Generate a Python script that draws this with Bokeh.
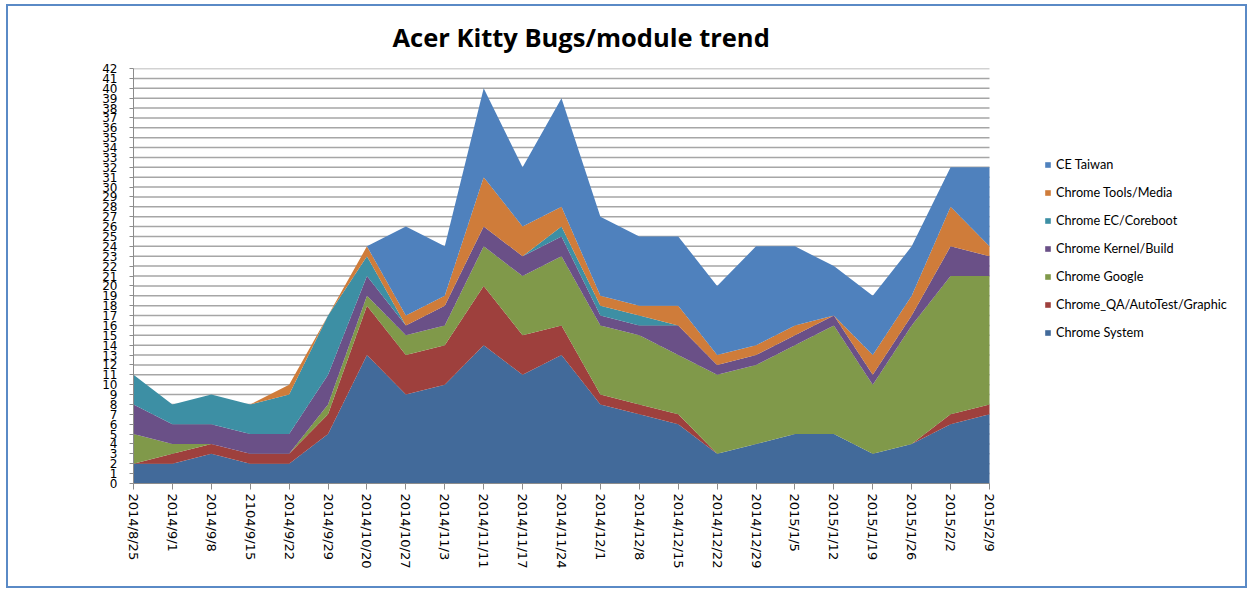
from bokeh.plotting import figure
from bokeh.models import ColumnDataSource, Range1d, FixedTicker, Legend, LegendItem
from bokeh.embed import file_html
from bokeh.resources import INLINE

dates = ["2014/8/25", "2014/9/1", "2014/9/8", "2104/9/15", "2014/9/22", "2014/9/29",
         "2014/10/20", "2014/10/27", "2014/11/3", "2014/11/11", "2014/11/17", "2014/11/24",
         "2014/12/1", "2014/12/8", "2014/12/15", "2014/12/22", "2014/12/29", "2015/1/5",
         "2015/1/12", "2015/1/19", "2015/1/26", "2015/2/2", "2015/2/9"]

chrome_system = [2, 2, 3, 2, 2, 5, 13, 9, 10, 14, 11, 13, 8, 7, 6, 3, 4, 5, 5, 3, 4, 6, 7]
chrome_qa     = [0, 1, 1, 1, 1, 2, 5, 4, 4, 6, 4, 3, 1, 1, 1, 0, 0, 0, 0, 0, 0, 1, 1]
chrome_google = [3, 1, 0, 0, 0, 1, 1, 2, 2, 4, 6, 7, 7, 7, 6, 8, 8, 9, 11, 7, 12, 14, 13]
chrome_kernel = [3, 2, 2, 2, 2, 3, 2, 1, 2, 2, 2, 2, 1, 1, 3, 1, 1, 1, 1, 1, 1, 3, 2]
chrome_ec     = [3, 2, 3, 3, 4, 6, 2, 0, 0, 0, 0, 1, 1, 1, 0, 0, 0, 0, 0, 0, 0, 0, 0]
chrome_tools  = [0, 0, 0, 0, 1, 0, 1, 1, 1, 5, 3, 2, 1, 1, 2, 1, 1, 1, 0, 2, 2, 4, 1]
ce_taiwan     = [0, 0, 0, 0, 0, 0, 0, 9, 5, 9, 6, 11, 8, 7, 7, 7, 10, 8, 5, 6, 5, 4, 8]

y_ticks = list(range(0, 43))

series_names = ["Chrome System", "Chrome_QA/AutoTest/Graphic", "Chrome Google",
                "Chrome Kernel/Build", "Chrome EC/Coreboot", "Chrome Tools/Media", "CE Taiwan"]
series_values = [chrome_system, chrome_qa, chrome_google, chrome_kernel,
                 chrome_ec, chrome_tools, ce_taiwan]
colors = ["#426A9A", "#9E403D", "#80994A", "#6A5087", "#3D8FA4", "#CF7C3A", "#4F81BD"]

keys = ["s%d" % i for i in range(len(series_names))]
data = {"x": list(range(len(dates)))}
for k, v in zip(keys, series_values):
    data[k] = v
src = ColumnDataSource(data)

# layout (pixels): the frame runs to the right edge so the legend can sit inside it;
# the data part of the frame is the first `data_w` pixels.
W, H = 1241, 584
left_b, top_b, bottom_b = 125, 62, 107
frame_w = W - left_b
data_w = 856
last = len(dates) - 1
x_end = last * frame_w / data_w

p = figure(width=W, height=H, output_backend="svg", toolbar_location=None,
           x_range=Range1d(0, x_end), y_range=Range1d(0, 42),
           min_border_left=left_b, min_border_right=0, min_border_top=top_b,
           min_border_bottom=bottom_b)
p.styles = {"border": "2px solid #5A8AC6", "margin-left": "6px", "margin-top": "4px"}
p.outline_line_color = None
p.background_fill_color = "white"
p.border_fill_color = "white"

# horizontal gridlines, only across the data part of the frame
grid_src = ColumnDataSource(dict(x0=[0] * len(y_ticks), x1=[last] * len(y_ticks),
                                 y=y_ticks))
p.segment(x0="x0", x1="x1", y0="y", y1="y", source=grid_src,
          line_color="#A6A6A6", line_width=1.5, level="underlay")
p.xgrid.grid_line_color = None
p.ygrid.grid_line_color = None

renderers = p.varea_stack(stackers=keys, x="x", color=colors, source=src)

p.title.text = "Acer Kitty Bugs/module trend"
p.title.text_font = "Open Sans"
p.title.text_font_size = "25.5px"
p.title.text_font_style = "bold"
p.title.align = "left"
p.title.vertical_align = "top"
p.title.offset = 259
p.title.standoff = 26
p.title.text_color = "black"

p.yaxis.ticker = FixedTicker(ticks=y_ticks)
p.yaxis.major_label_text_font = "DejaVu Sans"
p.yaxis.major_label_text_font_size = "12px"
p.yaxis.major_label_text_color = "black"
p.yaxis.axis_line_color = "#8C8C8C"
p.yaxis.major_tick_line_color = "#8C8C8C"
p.yaxis.major_tick_out = 4
p.yaxis.major_tick_in = 0
p.yaxis.minor_tick_line_color = None
p.yaxis.major_label_standoff = 12

p.xaxis.ticker = FixedTicker(ticks=data["x"])
p.xaxis.bounds = (0, last)
p.xaxis.major_label_overrides = {i: d for i, d in enumerate(dates)}
p.xaxis.major_label_orientation = "vertical"
p.xaxis.major_label_text_font = "DejaVu Sans"
p.xaxis.major_label_text_font_size = "13px"
p.xaxis.major_label_text_color = "black"
p.xaxis.axis_line_color = "#8C8C8C"
p.xaxis.major_tick_line_color = "#8C8C8C"
p.xaxis.major_tick_out = 6
p.xaxis.major_tick_in = 0
p.xaxis.minor_tick_line_color = None
p.xaxis.major_label_standoff = 4

items = [LegendItem(label=n, renderers=[r]) for n, r in zip(series_names, renderers)]
items.reverse()
legend = Legend(items=items, location=(911, 143), padding=0, margin=0,
                border_line_color=None, background_fill_alpha=0,
                glyph_width=7, glyph_height=7, label_height=16, spacing=12,
                label_standoff=5, label_text_font="Lato", label_text_font_size="12.7px",
                label_text_color="black")
p.add_layout(legend, "center")

open("out.html", "w").write(file_html(p, INLINE))
